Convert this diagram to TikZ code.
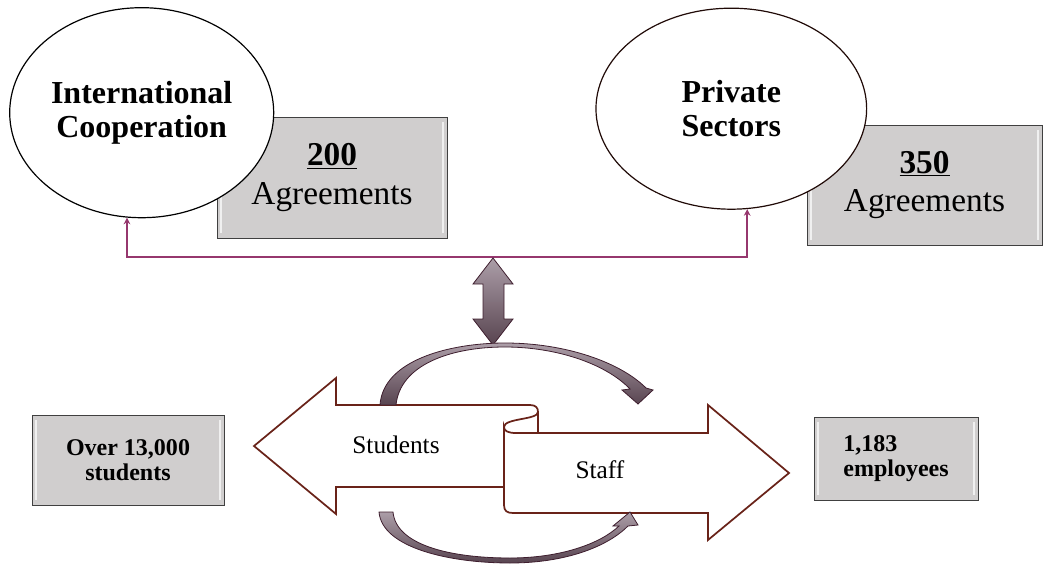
\documentclass[tikz,border=0pt]{standalone}
\usepackage{fontspec}
\setmainfont{Liberation Serif}
\usetikzlibrary{arrows.meta, shapes.geometric}
\definecolor{plum}{RGB}{150,55,110}
\definecolor{rust}{RGB}{105,35,25}
\definecolor{panelgray}{RGB}{208,206,206}
\definecolor{mauvelight}{RGB}{172,158,168}
\definecolor{mauvedark}{RGB}{88,68,80}
\definecolor{mauveline}{RGB}{62,30,46}

\begin{document}
\begin{tikzpicture}[x=0.75pt, y=-0.75pt, line join=miter,
    bubble/.style={draw, ellipse, fill=white, inner sep=0pt, align=center, line width=0.9pt, font=\bfseries\fontsize{24}{26}\selectfont},
    panel/.style={draw=black!75, fill=panelgray, inner sep=0pt, align=center, line width=0.6pt,
        path picture={\draw[white, line width=1.6pt, opacity=.7]
            ([shift={(3pt,4pt)}]path picture bounding box.south west) -- ([shift={(3pt,-4pt)}]path picture bounding box.north west)
            ([shift={(-3pt,4pt)}]path picture bounding box.south east) -- ([shift={(-3pt,-4pt)}]path picture bounding box.north east);}},
    big/.style={draw=rust, fill=white, line width=1.3pt},
    swirl/.style={draw=mauveline, line width=0.6pt, top color=mauvelight, bottom color=mauvedark},
    link/.style={draw=plum, line width=1.5pt, <->, >={Stealth[length=5pt,width=5pt]}},
    label/.style={font=\fontsize{19}{22}\selectfont}]
    \useasboundingbox (0,0) rectangle (1044,566);

    \node[panel, minimum width=172.5pt, minimum height=90.75pt, font=\fontsize{25}{29}\selectfont] (a200) at (332,177.5) {\underline{\textbf{200}}\\Agreements};
    \node[panel, minimum width=176.25pt, minimum height=90pt, font=\fontsize{25}{29}\selectfont] (a350) at (924.5,185) {\underline{\textbf{350}}\\Agreements};
    \node[panel, minimum width=144pt, minimum height=67.5pt, font=\bfseries\fontsize{18}{19}\selectfont] (stu) at (128,460) {Over 13,000\\students};
    \node[panel, minimum width=123pt, minimum height=62.25pt, align=left, font=\bfseries\fontsize{18}{19}\selectfont] (emp) at (896,458.5) {1,183\\employees};

    \node[bubble, minimum width=198pt, minimum height=157.5pt] (ic) at (141.7,112.7) {International\\Cooperation};
    \node[bubble, draw=black!70!rust, minimum width=203pt, minimum height=150.75pt] (ps) at (731.3,108.7) {Private\\Sectors};

    \coordinate (mid) at (0,257);
    \draw[link] (ic.262) -- (ic.262 |- mid) -| (ps.279);

    \path[swirl] (493,258) -- (513,284) -- (504,284) -- (504,319) -- (513,319) -- (493,345) -- (473,319) -- (483,319) -- (483,284) -- (473,284) -- cycle;

    \path[big] (504,487) -- (336,487) -- (336,514) -- (254,446) -- (336,378) -- (336,405) -- (530,405) .. controls (536,405) and (538,408) .. (538,412) -- (538,433) -- (504,433) -- cycle;
    \path[big] (538,433) -- (708,433) -- (708,405) -- (789,473) -- (708,540) -- (708,513) -- (513,513) .. controls (507,513) and (504,511) .. (504,505) -- (504,427) .. controls (504,431) and (508,433) .. (516,433) -- cycle;
    \draw[rust, line width=1.3pt] (538,412) .. controls (538,420) and (504,418) .. (504,427);

    \path[swirl] (380,405) .. controls (383,360) and (450,343) .. (505,343) .. controls (565,343) and (620,362) .. (646,388) -- (653,390) -- (638,404) -- (622,390) -- (630,389) .. controls (605,363) and (555,347) .. (505,347) .. controls (450,347) and (400,365) .. (396,405) -- cycle;
    \path[swirl] (379,512) .. controls (382,548) and (450,563) .. (510,563) .. controls (565,563) and (607,547) .. (628,526) -- (638,525) -- (630,512) -- (613,526) -- (619,526) .. controls (600,544) and (560,558) .. (510,558) .. controls (450,558) and (396,545) .. (393,512) -- cycle;

    \node[label] (stud) at (396,445) {Students};
    \node[label] (stf) at (600,470) {Staff};
\end{tikzpicture}
\end{document}
